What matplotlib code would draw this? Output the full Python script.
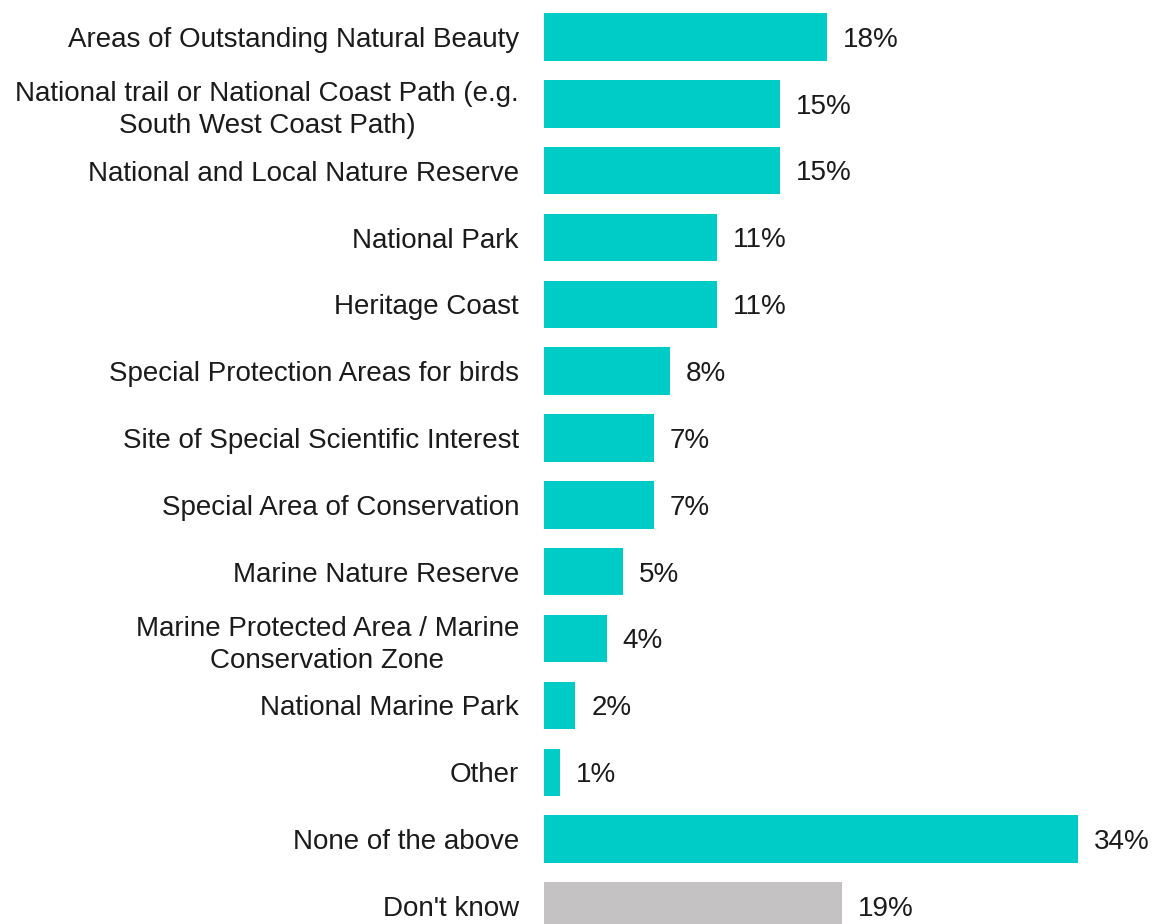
import matplotlib
matplotlib.use("Agg")
import matplotlib.pyplot as plt

# Awareness of protected-area designations (% of respondents)
categories = [
    "Areas of Outstanding Natural Beauty",
    "National trail or National Coast Path (e.g.\nSouth West Coast Path)",
    "National and Local Nature Reserve",
    "National Park",
    "Heritage Coast",
    "Special Protection Areas for birds",
    "Site of Special Scientific Interest",
    "Special Area of Conservation",
    "Marine Nature Reserve",
    "Marine Protected Area / Marine\nConservation Zone",
    "National Marine Park",
    "Other",
    "None of the above",
    "Don't know",
]
values = [18, 15, 15, 11, 11, 8, 7, 7, 5, 4, 2, 1, 34, 19]
value_labels = ["18%", "15%", "15%", "11%", "11%", "8%", "7%", "7%",
                "5%", "4%", "2%", "1%", "34%", "19%"]

teal = "#00CCC7"
grey = "#C4C2C3"
text_color = "#1b1b1b"
colors = [grey if c == "Don't know" else teal for c in categories]

plt.rcParams["font.family"] = ["Liberation Sans", "DejaVu Sans"]

W, H = 1157, 924
fig = plt.figure(figsize=(W / 100, H / 100), dpi=100)
ax = fig.add_axes([544 / W, 0, (W - 544) / W, 1])

pos = list(range(len(categories)))
ax.barh(pos, values, height=0.71, color=colors, edgecolor="none")

ax.set_ylim(13.27, -0.553)
ax.set_xlim(0, (W - 544) / 15.7)

ax.set_yticks(pos)
ax.set_yticklabels(categories, fontsize=20, color=text_color,
                   linespacing=1.3, ha="right", multialignment="center")
ax.tick_params(axis="y", length=0, pad=18)
ax.set_xticks([])
for s in ax.spines.values():
    s.set_visible(False)

for p, v, lab in zip(pos, values, value_labels):
    ax.annotate(lab, xy=(v, p), xytext=(11.5, -2), textcoords="offset points",
                va="center", ha="left", fontsize=20, color=text_color)

fig.savefig("out.png", dpi=100)
